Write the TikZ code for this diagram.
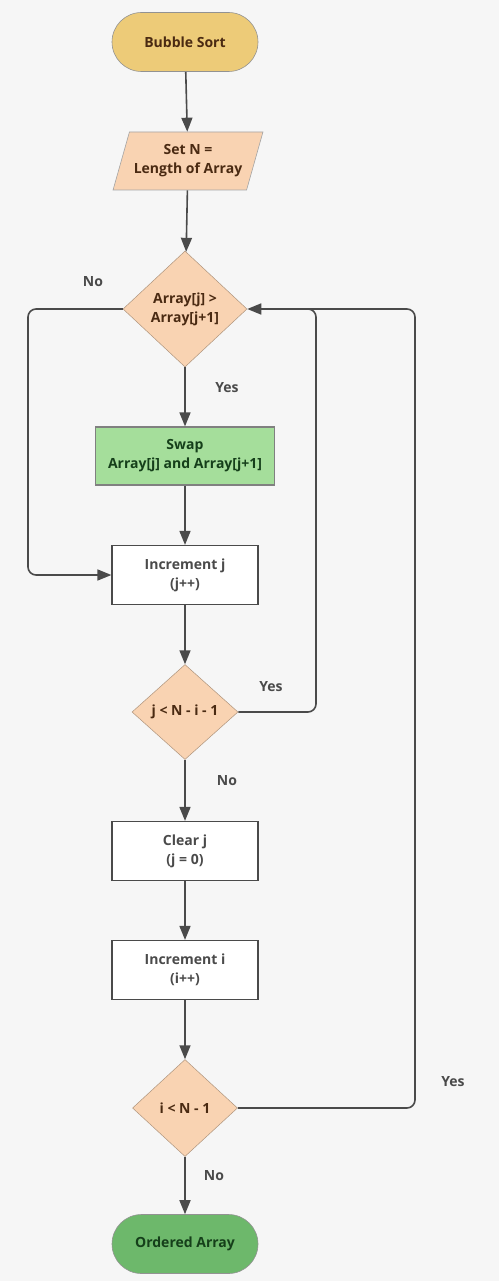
\documentclass[tikz,border=0pt]{standalone}
\usepackage{fontspec}
\setmainfont{Open Sans}
\usetikzlibrary{shapes.geometric,shapes.misc,arrows.meta}
\definecolor{bgGray}{HTML}{F6F6F6}
\definecolor{lineGray}{HTML}{4A4A4A}
\definecolor{startYellow}{HTML}{EDCB78}
\definecolor{peach}{HTML}{F9D3B2}
\definecolor{swapGreen}{HTML}{A5DE9B}
\definecolor{endGreen}{HTML}{6DB86B}
\definecolor{brownText}{HTML}{4A2A12}
\definecolor{greenText}{HTML}{153F1A}
\begin{document}
\begin{tikzpicture}[x=1pt,y=-1pt,
  font=\bfseries\fontsize{14}{19}\selectfont,
  every node/.style={inner sep=0pt, align=center},
  terminal/.style={rounded rectangle, draw=lineGray!60, line width=0.6pt,
    minimum width=146pt, minimum height=59pt},
  inputbox/.style={trapezium, trapezium left angle=65, trapezium right angle=115,
    draw=lineGray!50, line width=0.6pt, fill=peach, text=brownText,
    minimum width=150pt, minimum height=58pt, trapezium stretches=true},
  decision/.style={diamond, draw=peach!70!black, line width=0.5pt, fill=peach,
    text=brownText},
  process/.style={rectangle, draw=lineGray, line width=1.2pt, fill=white,
    text=lineGray, minimum width=146pt, minimum height=59pt},
  flow/.style={draw=lineGray, line width=1.6pt,
    -{Triangle[length=14pt,width=11pt]}},
  lbl/.style={text=lineGray}]
  \fill[bgGray] (0,0) rectangle (499,1281);
  \useasboundingbox (0,0) rectangle (499,1281);
  % nodes
  \node[terminal, fill=startYellow, text=brownText] (start) at (185,42) {Bubble Sort};
  \node[inputbox] (setN) at (188,161) {Set N =\\Length of Array};
  \node[decision, minimum width=124pt, minimum height=116pt] (cmp) at (185,309) {Array[j] >\\Array[j+1]};
  \node[process, fill=swapGreen, draw=lineGray!70, text=greenText,
    minimum width=179pt, minimum height=58pt] (swap) at (185,456) {Swap\\Array[j] and Array[j+1]};
  \node[process] (incj) at (185,575) {Increment j\\(j++)};
  \node[decision, minimum width=106pt, minimum height=95pt] (innr) at (185,712) {j < N - i - 1};
  \node[process] (clrj) at (185,851) {Clear j\\(j = 0)};
  \node[process] (inci) at (185,970) {Increment i\\(i++)};
  \node[decision, minimum width=105pt, minimum height=97pt] (outr) at (185,1108) {i < N - 1};
  \node[terminal, fill=endGreen, text=greenText] (done) at (185,1244) {Ordered Array};
  % loop corners
  \coordinate (nw) at (28,309);
  \coordinate (ne) at (316,309);
  \coordinate (fe) at (415,309);
  \coordinate (join) at (300,309);
  % connectors
  \draw[flow] (start) -- (setN);
  \draw[flow] (setN) -- (cmp);
  \draw[flow] (cmp) -- (swap);
  \draw[flow] (swap) -- (incj);
  \draw[flow] (incj) -- (innr);
  \draw[flow] (innr) -- (clrj);
  \draw[flow] (clrj) -- (inci);
  \draw[flow] (inci) -- (outr);
  \draw[flow] (outr) -- (done);
  \draw[flow, rounded corners=8pt] (cmp.west) -- (nw) |- (incj.west);
  \draw[flow, rounded corners=8pt] (innr.east) -| (ne) -- (cmp.east);
  \draw[draw=lineGray, line width=1.6pt, rounded corners=8pt] (outr.east) -| (fe) -- (join);
  % labels
  \node[lbl] (noA) at (93,282) {No};
  \node[lbl] (yesA) at (227,388) {Yes};
  \node[lbl] (yesB) at (271,687) {Yes};
  \node[lbl] (noB) at (227,781) {No};
  \node[lbl] (yesC) at (453,1082) {Yes};
  \node[lbl] (noC) at (214,1176) {No};
\end{tikzpicture}
\end{document}
